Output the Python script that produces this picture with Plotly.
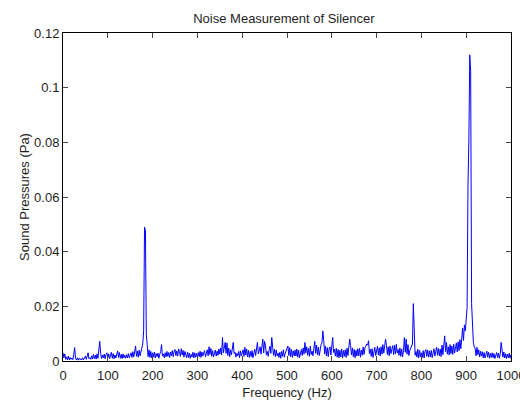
import plotly.graph_objects as go

# Frequency grid (Hz), 2 Hz resolution
freq_hz = list(range(0, 1001, 2))

# Sound pressure (Pa)
pressure_pa = [
    0.0030, 0.0012, 0.0026, 0.0006, 0.0015, 0.0005, 0.0018, 0.0004, 0.0013, 0.0006,
    0.0011, 0.0005, 0.0024, 0.0049, 0.0009, 0.0004, 0.0012, 0.0003, 0.0010, 0.0005,
    0.0008, 0.0004, 0.0012, 0.0005, 0.0010, 0.0018, 0.0006, 0.0022, 0.0030, 0.0008,
    0.0012, 0.0006, 0.0019, 0.0008, 0.0024, 0.0009, 0.0021, 0.0007, 0.0026, 0.0010,
    0.0035, 0.0072, 0.0028, 0.0009, 0.0022, 0.0011, 0.0025, 0.0008, 0.0023, 0.0030,
    0.0012, 0.0026, 0.0009, 0.0024, 0.0032, 0.0010, 0.0027, 0.0008, 0.0022, 0.0011,
    0.0028, 0.0037, 0.0013, 0.0031, 0.0010, 0.0024, 0.0009, 0.0026, 0.0012, 0.0021,
    0.0010, 0.0023, 0.0011, 0.0027, 0.0012, 0.0025, 0.0030, 0.0013, 0.0034, 0.0015,
    0.0031, 0.0055, 0.0017, 0.0036, 0.0014, 0.0040, 0.0019, 0.0033, 0.0045, 0.0062,
    0.0110, 0.0490, 0.0478, 0.0095, 0.0058, 0.0016, 0.0041, 0.0013, 0.0035, 0.0012,
    0.0030, 0.0014, 0.0033, 0.0011, 0.0027, 0.0016, 0.0029, 0.0010, 0.0025, 0.0034,
    0.0060, 0.0018, 0.0026, 0.0012, 0.0030, 0.0015, 0.0035, 0.0017, 0.0031, 0.0013,
    0.0033, 0.0019, 0.0038, 0.0016, 0.0036, 0.0042, 0.0020, 0.0037, 0.0018, 0.0044,
    0.0034, 0.0017, 0.0045, 0.0022, 0.0039, 0.0014, 0.0035, 0.0021, 0.0012, 0.0033,
    0.0013, 0.0029, 0.0010, 0.0024, 0.0015, 0.0032, 0.0011, 0.0030, 0.0014, 0.0028,
    0.0012, 0.0031, 0.0016, 0.0036, 0.0013, 0.0033, 0.0018, 0.0029, 0.0038, 0.0015,
    0.0032, 0.0041, 0.0019, 0.0052, 0.0024, 0.0046, 0.0017, 0.0038, 0.0015, 0.0034,
    0.0040, 0.0018, 0.0036, 0.0021, 0.0044, 0.0025, 0.0048, 0.0022, 0.0086, 0.0030,
    0.0050, 0.0068, 0.0028, 0.0066, 0.0020, 0.0047, 0.0016, 0.0041, 0.0023, 0.0054,
    0.0068, 0.0027, 0.0032, 0.0014, 0.0028, 0.0019, 0.0035, 0.0012, 0.0037, 0.0018,
    0.0029, 0.0041, 0.0017, 0.0050, 0.0022, 0.0044, 0.0015, 0.0039, 0.0013, 0.0035,
    0.0016, 0.0038, 0.0012, 0.0034, 0.0043, 0.0020, 0.0047, 0.0068, 0.0026, 0.0036,
    0.0052, 0.0025, 0.0061, 0.0080, 0.0030, 0.0072, 0.0056, 0.0022, 0.0035, 0.0017,
    0.0039, 0.0054, 0.0028, 0.0086, 0.0050, 0.0021, 0.0043, 0.0016, 0.0040, 0.0019,
    0.0029, 0.0013, 0.0032, 0.0010, 0.0035, 0.0017, 0.0041, 0.0014, 0.0028, 0.0036,
    0.0045, 0.0055, 0.0020, 0.0049, 0.0016, 0.0042, 0.0013, 0.0037, 0.0019, 0.0040,
    0.0018, 0.0044, 0.0014, 0.0039, 0.0012, 0.0036, 0.0042, 0.0020, 0.0048, 0.0025,
    0.0068, 0.0030, 0.0052, 0.0021, 0.0046, 0.0017, 0.0055, 0.0024, 0.0036, 0.0019,
    0.0050, 0.0072, 0.0028, 0.0058, 0.0023, 0.0051, 0.0020, 0.0046, 0.0060, 0.0066,
    0.0110, 0.0075, 0.0026, 0.0055, 0.0019, 0.0049, 0.0016, 0.0045, 0.0052, 0.0022,
    0.0060, 0.0086, 0.0031, 0.0043, 0.0018, 0.0046, 0.0014, 0.0042, 0.0012, 0.0039,
    0.0015, 0.0044, 0.0011, 0.0038, 0.0017, 0.0041, 0.0013, 0.0047, 0.0020, 0.0050,
    0.0080, 0.0056, 0.0022, 0.0048, 0.0016, 0.0042, 0.0012, 0.0039, 0.0018, 0.0045,
    0.0019, 0.0046, 0.0014, 0.0040, 0.0021, 0.0051, 0.0024, 0.0048, 0.0055, 0.0062,
    0.0058, 0.0074, 0.0027, 0.0043, 0.0017, 0.0045, 0.0013, 0.0041, 0.0050, 0.0020,
    0.0046, 0.0054, 0.0022, 0.0048, 0.0018, 0.0052, 0.0025, 0.0060, 0.0029, 0.0066,
    0.0080, 0.0057, 0.0024, 0.0052, 0.0019, 0.0055, 0.0027, 0.0043, 0.0056, 0.0023,
    0.0058, 0.0026, 0.0061, 0.0030, 0.0042, 0.0021, 0.0048, 0.0017, 0.0044, 0.0015,
    0.0039, 0.0086, 0.0032, 0.0080, 0.0025, 0.0060, 0.0020, 0.0038, 0.0045, 0.0058,
    0.0062, 0.0210, 0.0065, 0.0021, 0.0035, 0.0014, 0.0043, 0.0012, 0.0039, 0.0016,
    0.0030, 0.0013, 0.0038, 0.0011, 0.0035, 0.0042, 0.0017, 0.0040, 0.0014, 0.0037,
    0.0015, 0.0039, 0.0012, 0.0036, 0.0045, 0.0018, 0.0041, 0.0050, 0.0021, 0.0046,
    0.0019, 0.0044, 0.0016, 0.0058, 0.0023, 0.0049, 0.0092, 0.0034, 0.0068, 0.0025,
    0.0052, 0.0022, 0.0060, 0.0027, 0.0055, 0.0024, 0.0062, 0.0029, 0.0058, 0.0066,
    0.0033, 0.0070, 0.0038, 0.0078, 0.0045, 0.0090, 0.0120, 0.0075, 0.0132, 0.0110,
    0.0140, 0.0195, 0.0640, 0.0810, 0.1120, 0.1060, 0.0210, 0.0098, 0.0068, 0.0052,
    0.0045, 0.0019, 0.0050, 0.0023, 0.0041, 0.0015, 0.0036, 0.0018, 0.0034, 0.0012,
    0.0031, 0.0011, 0.0029, 0.0036, 0.0014, 0.0032, 0.0010, 0.0028, 0.0013, 0.0030,
    0.0012, 0.0027, 0.0009, 0.0025, 0.0031, 0.0013, 0.0029, 0.0010, 0.0026, 0.0068,
    0.0030, 0.0014, 0.0033, 0.0011, 0.0027, 0.0009, 0.0025, 0.0012, 0.0028, 0.0010,
    0.0024,
]

x_ticks = [0, 100, 200, 300, 400, 500, 600, 700, 800, 900, 1000]
y_ticks = [0, 0.02, 0.04, 0.06, 0.08, 0.1, 0.12]
y_tick_labels = ["0", "0.02", "0.04", "0.06", "0.08", "0.1", "0.12"]

n = min(len(freq_hz), len(pressure_pa))

fig = go.Figure()
fig.add_trace(go.Scatter(
    x=freq_hz[:n], y=pressure_pa[:n], mode="lines",
    line=dict(color="#0000ff", width=1),
    showlegend=False,
))

font_family = "Liberation Sans, Arial, sans-serif"
text_color = "#1e1e1e"
fsize = 13
fig.update_layout(
    width=520, height=401,
    margin=dict(l=63, r=9, t=33, b=40, autoexpand=False),
    paper_bgcolor="white", plot_bgcolor="white",
    font=dict(family=font_family, size=fsize, color=text_color),
    title=dict(text="Noise Measurement of Silencer", x=0.546, xanchor="center",
               xref="container", yref="container",
               y=0.955, yanchor="middle", font=dict(size=fsize, color=text_color)),
    xaxis=dict(range=[0, 1000], tickvals=x_ticks, ticks="inside", ticklen=5,
               showline=True, linecolor="black", linewidth=1, mirror="ticks",
               showgrid=False, zeroline=False, automargin=False,
               ticklabelstandoff=2, ticklabeloverflow="allow",
               title=dict(text="Frequency (Hz)", standoff=6,
                          font=dict(size=fsize, color=text_color)),
               tickfont=dict(size=fsize, color=text_color)),
    yaxis=dict(range=[0, 0.12], tickvals=y_ticks, ticktext=y_tick_labels,
               ticks="inside", ticklen=5,
               showline=True, linecolor="black", linewidth=1, mirror="ticks",
               showgrid=False, zeroline=False, automargin=False,
               title=dict(text="Sound Pressures (Pa)", standoff=1,
                          font=dict(size=fsize, color=text_color)),
               tickfont=dict(size=fsize, color=text_color)),
)

fig.write_html(
    "out.html",
    config={"displayModeBar": False},
    post_script="document.body.style.margin='0';document.body.style.overflow='hidden';",
)
